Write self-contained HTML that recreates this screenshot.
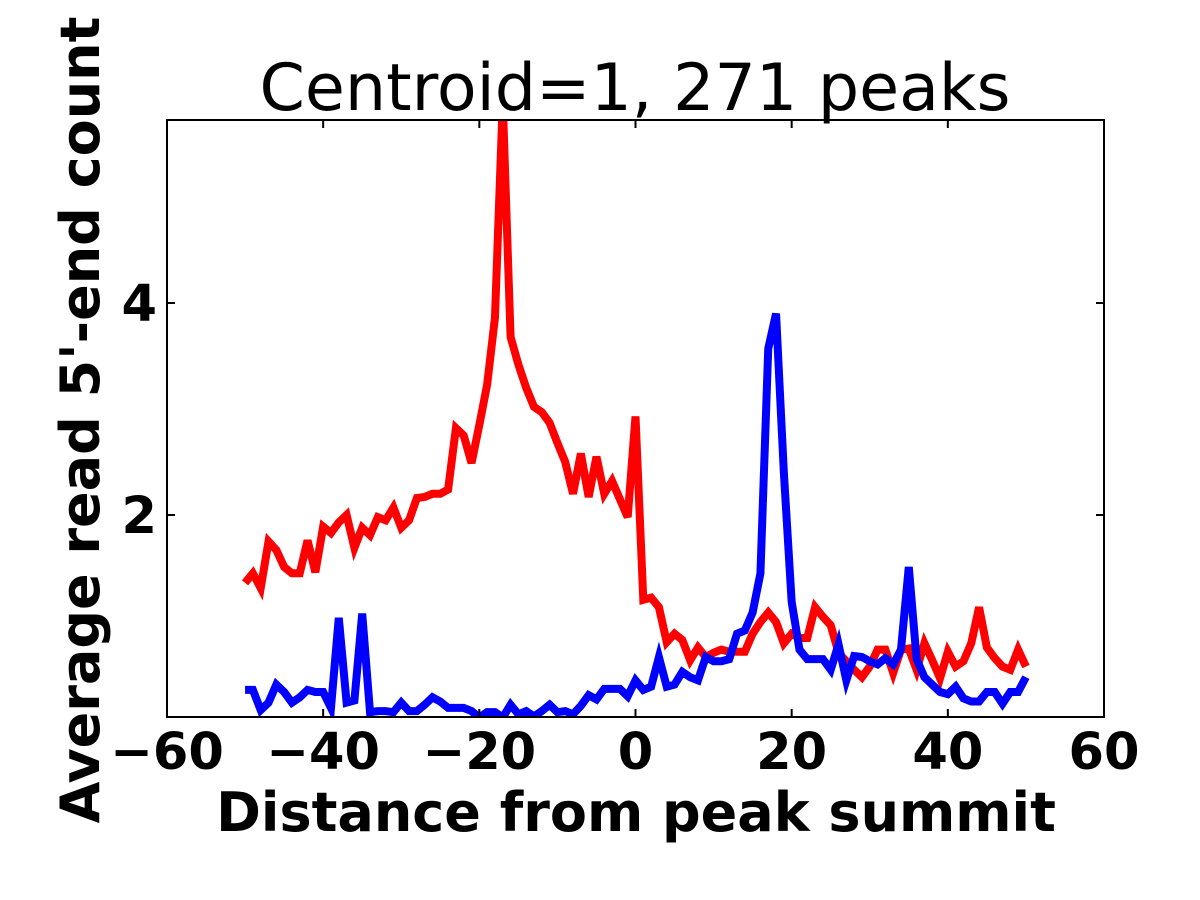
<!DOCTYPE html>
<html><head><meta charset="utf-8"><style>
html,body{margin:0;padding:0;background:#fff;}
svg{display:block;font-family:"DejaVu Sans","Liberation Sans",sans-serif;}
</style></head><body>
<svg id="chart" width="1200" height="900" viewBox="0 0 1200 900">
<rect width="1200" height="900" fill="#fff"/>
<defs><clipPath id="clip"><rect x="167" y="120" width="937" height="597"/></clipPath></defs>
<text x="635" y="110" text-anchor="middle" font-size="65">Centroid=1, 271 peaks</text>
<g id="plot" clip-path="url(#clip)"></g>
<g id="ticks"></g>
<rect x="167" y="120" width="937" height="597" fill="none" stroke="#000" stroke-width="2"/>
<text x="636" y="831" text-anchor="middle" font-size="54" font-weight="bold">Distance from peak summit</text>
<text transform="translate(99,420) rotate(-90)" text-anchor="middle" font-size="54" font-weight="bold">Average read 5'-end count</text>
</svg>
<script>
const xTicks=[-60,-40,-20,0,20,40,60];
const yTicks=[2,4];
const xStart=-50;
const redValues=[1.36,1.45,1.31,1.75,1.67,1.51,1.45,1.45,1.76,1.46,1.89,1.83,1.93,2.0,1.69,1.88,1.81,1.98,1.95,2.07,1.88,1.95,2.16,2.17,2.2,2.2,2.24,2.82,2.75,2.49,2.85,3.23,3.86,5.9,3.68,3.42,3.2,3.02,2.97,2.87,2.68,2.5,2.2,2.58,2.17,2.55,2.2,2.32,2.15,1.98,2.93,1.2,1.22,1.13,0.8,0.88,0.82,0.63,0.75,0.66,0.7,0.73,0.71,0.71,0.71,0.88,0.99,1.08,0.99,0.79,0.88,0.84,0.84,1.13,1.04,0.96,0.7,0.62,0.54,0.47,0.57,0.73,0.73,0.51,0.73,0.74,0.54,0.79,0.63,0.46,0.71,0.57,0.62,0.79,1.13,0.75,0.65,0.57,0.54,0.73,0.57];
const blueValues=[0.35,0.35,0.16,0.23,0.4,0.33,0.23,0.28,0.35,0.33,0.33,0.18,1.03,0.23,0.25,1.07,0.14,0.15,0.15,0.14,0.23,0.15,0.15,0.21,0.28,0.24,0.18,0.18,0.18,0.15,0.09,0.14,0.14,0.09,0.21,0.12,0.15,0.1,0.15,0.21,0.14,0.15,0.12,0.2,0.3,0.26,0.36,0.36,0.36,0.29,0.44,0.35,0.38,0.66,0.38,0.4,0.52,0.47,0.44,0.66,0.62,0.62,0.64,0.88,0.91,1.08,1.45,3.57,3.9,2.4,1.18,0.73,0.64,0.64,0.64,0.54,0.78,0.44,0.67,0.66,0.62,0.59,0.65,0.59,0.73,1.51,0.64,0.47,0.4,0.33,0.31,0.38,0.27,0.24,0.24,0.33,0.33,0.22,0.33,0.33,0.47];
const NS='http://www.w3.org/2000/svg';
function xs(v){return 167+(v+60)*(937/120);}
function ys(v){return 727-v*106;}
const plot=document.getElementById('plot');
function drawLine(vals,color,name){
  const p=document.createElementNS(NS,'polyline');
  p.setAttribute('points',vals.map((v,i)=>xs(xStart+i)+','+ys(v)).join(' '));
  p.setAttribute('fill','none');p.setAttribute('stroke',color);
  p.setAttribute('stroke-width','8');p.setAttribute('stroke-linejoin','miter');
  
  
  plot.appendChild(p);
}
drawLine(redValues,'#ff0000','red-series-line');
drawLine(blueValues,'#0000ff','blue-series-line');
const tg=document.getElementById('ticks');
function mk(tag,attrs){const e=document.createElementNS(NS,tag);for(const k in attrs)e.setAttribute(k,attrs[k]);tg.appendChild(e);return e;}
xTicks.forEach(t=>{
  const x=xs(t);
  const a=mk('line',{x1:x,x2:x,y1:717,y2:709,stroke:'#000','stroke-width':2});
  
  
  const b=mk('line',{x1:x,x2:x,y1:120,y2:128,stroke:'#000','stroke-width':2});
  
  
  const l=mk('text',{x:x,y:769,'text-anchor':'middle','font-size':51,'font-weight':'bold'});
  l.textContent=(t<0?'\u2212'+(-t):String(t));
  
  
});
yTicks.forEach(t=>{
  const y=ys(t);
  const a=mk('line',{x1:167,x2:175,y1:y,y2:y,stroke:'#000','stroke-width':2});
  
  
  const b=mk('line',{x1:1096,x2:1104,y1:y,y2:y,stroke:'#000','stroke-width':2});
  
  
  const l=mk('text',{x:157,y:y+18,'text-anchor':'end','font-size':51,'font-weight':'bold'});
  l.textContent=String(t);
  
  
});
</script>
</body></html>
